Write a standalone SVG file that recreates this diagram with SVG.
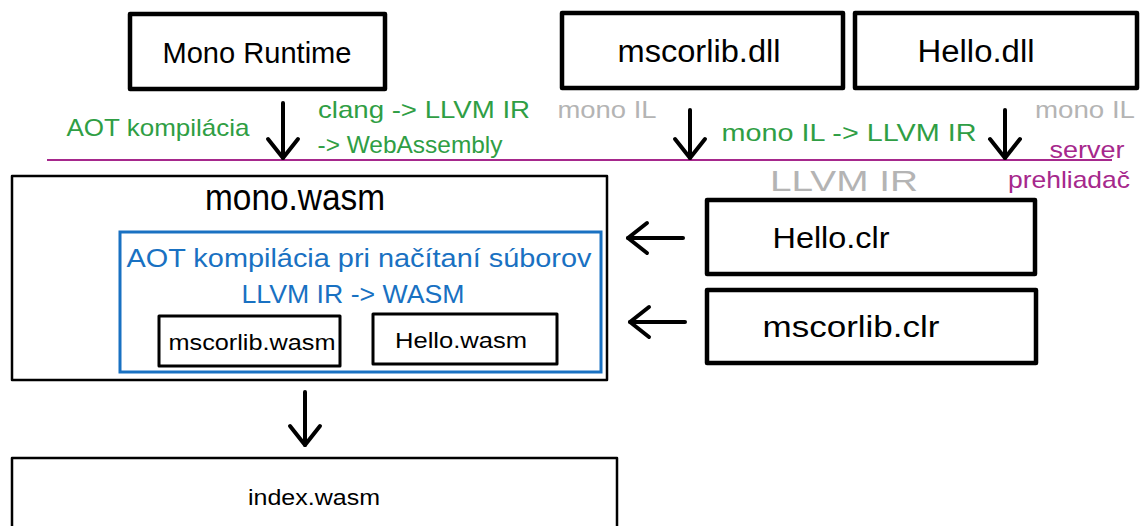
<svg xmlns="http://www.w3.org/2000/svg" width="1141" height="526" viewBox="0 0 1141 526">
<defs>
<style>
text{font-family:"Liberation Sans","DejaVu Sans",sans-serif;text-anchor:middle}
.box{fill:#fff;stroke:#000;stroke-linejoin:round}
.thick{stroke-width:4.5}
.mid{stroke-width:3}
.thin{stroke-width:2.5}
.blue{fill:none;stroke:#1971c2;stroke-width:3}
.k{fill:#000}
.g{fill:#2f9e44}
.gr{fill:#b4b4b4}
.m{fill:#a6288c}
.b{fill:#1971c2}
.arr{fill:none;stroke:#000;stroke-width:4;stroke-linecap:round}
.sep{stroke:#a6288c;stroke-width:2}
</style>
<marker id="ah" viewBox="0 0 20 32" refX="20" refY="16" markerWidth="20" markerHeight="32" markerUnits="userSpaceOnUse" orient="auto" overflow="visible">
<path d="M1,1 L20,16 L1,31" fill="none" stroke="#000" stroke-width="4" stroke-linecap="round" stroke-linejoin="round"/>
</marker>
</defs>
<rect width="1141" height="526" fill="#fff"/>

<g id="separator">
<line class="sep" x1="47" y1="160" x2="1112" y2="160"/>
<text class="m" x="1087" y="158" font-size="24" textLength="75" lengthAdjust="spacingAndGlyphs">server</text>
<text class="m" x="1069" y="188" font-size="24" textLength="122" lengthAdjust="spacingAndGlyphs">prehliadač</text>
</g>

<g id="mono-runtime">
<rect class="box thick" x="130" y="14" width="255" height="75"/>
<text class="k" x="257" y="63" font-size="30" textLength="189" lengthAdjust="spacingAndGlyphs">Mono Runtime</text>
</g>

<g id="mscorlib-dll">
<rect class="box thick" x="562" y="13" width="281" height="75"/>
<text class="k" x="699" y="62" font-size="31" textLength="163" lengthAdjust="spacingAndGlyphs">mscorlib.dll</text>
</g>

<g id="hello-dll">
<rect class="box thick" x="855" y="13" width="282" height="75"/>
<text class="k" x="976" y="62" font-size="31" textLength="117" lengthAdjust="spacingAndGlyphs">Hello.dll</text>
</g>

<g id="labels">
<text class="g" x="158" y="136" font-size="24" textLength="183" lengthAdjust="spacingAndGlyphs">AOT kompilácia</text>
<text class="g" x="424" y="118" font-size="24" textLength="212" lengthAdjust="spacingAndGlyphs">clang -&gt; LLVM IR</text>
<text class="g" x="410" y="153" font-size="24" textLength="185" lengthAdjust="spacingAndGlyphs">-&gt; WebAssembly</text>
<text class="gr" x="607" y="118" font-size="24" textLength="99" lengthAdjust="spacingAndGlyphs">mono IL</text>
<text class="gr" x="1085" y="118" font-size="24" textLength="100" lengthAdjust="spacingAndGlyphs">mono IL</text>
<text class="g" x="849" y="141" font-size="24" textLength="255" lengthAdjust="spacingAndGlyphs">mono IL -&gt; LLVM IR</text>
<text class="gr" x="844" y="191" font-size="30" textLength="148" lengthAdjust="spacingAndGlyphs">LLVM IR</text>
</g>

<g id="mono-wasm">
<rect class="box thin" x="12" y="176" width="595" height="204"/>
<text class="k" x="295" y="210" font-size="36" textLength="180" lengthAdjust="spacingAndGlyphs">mono.wasm</text>
</g>

<g id="aot-loading">
<rect class="blue" x="120" y="232" width="481" height="140"/>
<text class="b" x="359" y="267" font-size="26" textLength="465" lengthAdjust="spacingAndGlyphs">AOT kompilácia pri načítaní súborov</text>
<text class="b" x="353" y="303" font-size="26" textLength="223" lengthAdjust="spacingAndGlyphs">LLVM IR -&gt; WASM</text>
</g>

<g id="mscorlib-wasm">
<rect class="box mid" x="159" y="316" width="181" height="50"/>
<text class="k" x="252" y="350" font-size="22" textLength="167" lengthAdjust="spacingAndGlyphs">mscorlib.wasm</text>
</g>

<g id="hello-wasm">
<rect class="box mid" x="373" y="314" width="184" height="50"/>
<text class="k" x="461" y="348" font-size="22" textLength="132" lengthAdjust="spacingAndGlyphs">Hello.wasm</text>
</g>

<g id="hello-clr">
<rect class="box thick" x="707" y="200" width="328" height="74"/>
<text class="k" x="831" y="248" font-size="30" textLength="117" lengthAdjust="spacingAndGlyphs">Hello.clr</text>
</g>

<g id="mscorlib-clr">
<rect class="box thick" x="707" y="290" width="329" height="73"/>
<text class="k" x="851" y="337" font-size="30" textLength="177" lengthAdjust="spacingAndGlyphs">mscorlib.clr</text>
</g>

<g id="index-wasm">
<rect class="box thin" x="12" y="458" width="605" height="80"/>
<text class="k" x="314" y="505" font-size="22" textLength="132" lengthAdjust="spacingAndGlyphs">index.wasm</text>
</g>

<g id="connectors">
<line class="arr" x1="283" y1="103" x2="283" y2="158" marker-end="url(#ah)"/>
<line class="arr" x1="690" y1="110" x2="690" y2="158" marker-end="url(#ah)"/>
<line class="arr" x1="1005" y1="110" x2="1005" y2="158" marker-end="url(#ah)"/>
<line class="arr" x1="683" y1="238" x2="628" y2="238" marker-end="url(#ah)"/>
<line class="arr" x1="685" y1="322" x2="630" y2="322" marker-end="url(#ah)"/>
<line class="arr" x1="305" y1="392" x2="305" y2="445" marker-end="url(#ah)"/>
</g>
</svg>
